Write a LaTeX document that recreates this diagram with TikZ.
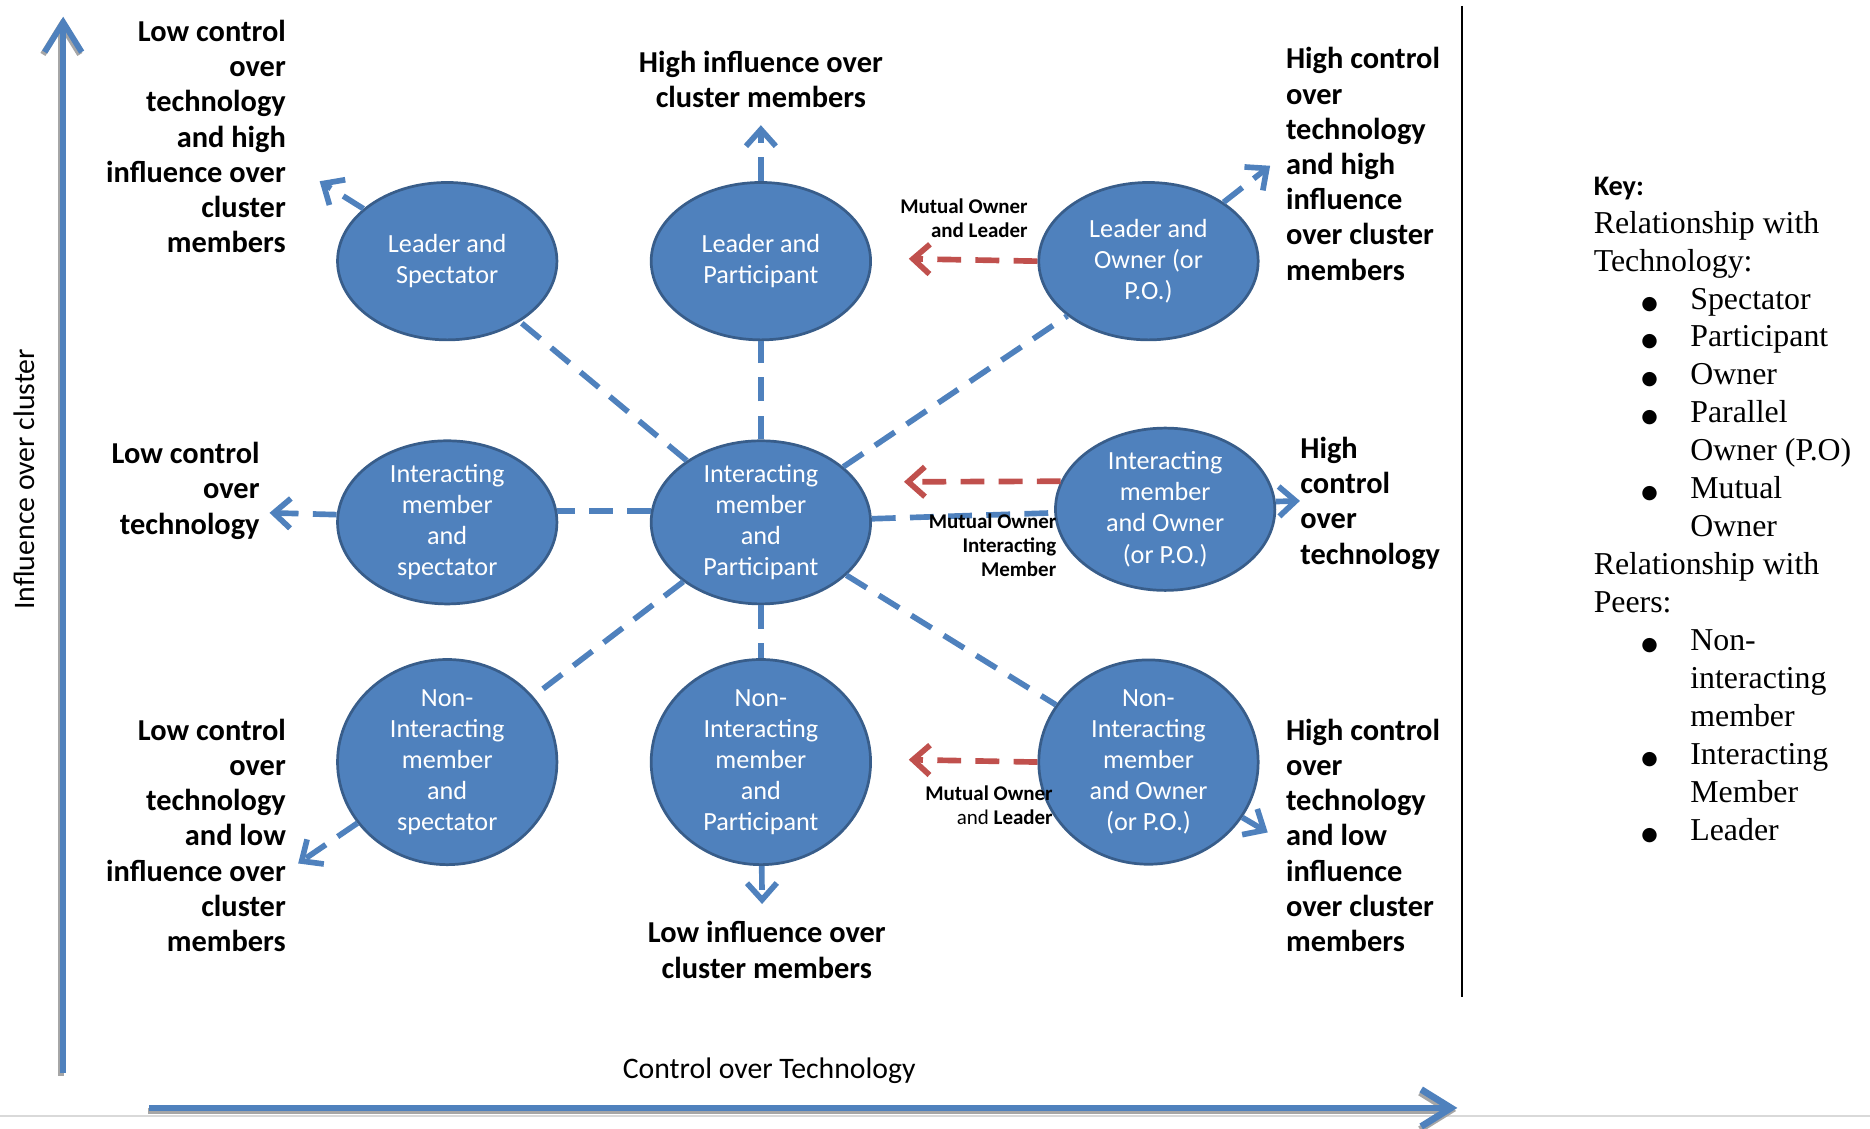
\documentclass[tikz,border=0pt]{standalone}
\usepackage{fontspec}
\setmainfont{Liberation Serif}
\setsansfont{Carlito}
\newfontfamily\dotfont{DejaVu Sans}
\usetikzlibrary{shapes.geometric,arrows.meta}
\definecolor{cellblue}{HTML}{4F81BD}
\definecolor{celledge}{HTML}{385D8A}
\definecolor{mutualred}{HTML}{C0504D}
\definecolor{shadowgray}{HTML}{A6A6A6}
\newcommand{\keydot}{{\dotfont\fontsize{9}{10}\selectfont ●}}
\newcommand{\keyitem}[1]{\makebox[1.62cm][l]{\hspace{0.8cm}\keydot}#1}
\newcommand{\keycont}[1]{\hspace*{1.62cm}#1}
\begin{document}
\begin{tikzpicture}[x=0.02cm, y=-0.02cm,
		cell/.style = {shape = ellipse,
		               fill = cellblue,
		               draw = celledge,
		               line width = 1.3pt,
		               minimum width = 3.68cm,
		               minimum height = 2.64cm,
		               inner sep = 0pt,
		               text = white,
		               align = center,
		               font = \sffamily\fontsize{12.5}{14.8}\selectfont},
		label/.style = {inner sep = 0pt,
		                font = \sffamily\bfseries\fontsize{14.5}{16.8}\selectfont},
		mutual/.style = {inner sep = 0pt,
		                 align = right,
		                 font = \sffamily\bfseries\fontsize{10}{11.4}\selectfont},
		link/.style = {draw = cellblue,
		               line width = 2.7pt,
		               dash pattern = on 0.4cm off 0.24cm},
		outlink/.style = {link,
		                  -{Straight Barb[length=0.28cm, width=0.5cm]}},
		mutlink/.style = {link,
		                  draw = mutualred,
		                  -{Straight Barb[length=0.28cm, width=0.5cm]}},
		axis/.style = {draw = cellblue,
		               -{Straight Barb[length=0.5cm, width=0.62cm]}}]
	\useasboundingbox (0,0) rectangle (1568,946);
	% page rule and key divider
	\draw[black!15, line width = 1pt] (0,936) -- (1568,936);
	\draw[black, line width = 0.9pt] (1226,5) -- (1226,836);
	% axes
	\coordinate (yb) at (53,900);
	\coordinate (yt) at (53,14);
	\coordinate (xb) at (125,929);
	\coordinate (xt) at (1222,929);
	\draw[axis, draw = shadowgray, line width = 2.8pt] ([shift={(-1.5,2)}]yb) -- ([shift={(-1.5,2)}]yt);
	\draw[axis, draw = shadowgray, line width = 3.2pt] ([shift={(-1,2.5)}]xb) -- ([shift={(-1,2.5)}]xt);
	\draw[axis, line width = 2.8pt] (yb) -- (yt);
	\draw[axis, line width = 3.2pt] (xb) -- (xt);
	\node[rotate = 90, font = \sffamily\fontsize{14.2}{16}\selectfont] (ylab) at (20,402) {Influence over cluster};
	\node[font = \sffamily\fontsize{14.2}{16}\selectfont] (xlab) at (645,898) {Control over Technology};
	% the nine roles
	\node[cell] (1) at (375,219) {Leader and\\Spectator};
	\node[cell] (2) at (638,219) {Leader and\\Participant};
	\node[cell] (3) at (963,219) {Leader and\\Owner (or\\P.O.)};
	\node[cell] (4) at (375,438) {Interacting\\member\\and\\spectator};
	\node[cell] (5) at (638,438) {Interacting\\member\\and\\Participant};
	\node[cell] (6) at (977,427) {Interacting\\member\\and Owner\\(or P.O.)};
	\node[cell] (7) at (375,639) {Non-\\Interacting\\member\\and\\spectator};
	\node[cell] (8) at (638,639) {Non-\\Interacting\\member\\and\\Participant};
	\node[cell] (9) at (963,639) {Non-\\Interacting\\member\\and Owner\\(or P.O.)};
	% links from the centre
	\path (5) edge[link] (1);
	\path (5) edge[link] (2);
	\path (5) edge[link] (3);
	\path (5.174) edge[link] (4.6);
	\path (5) edge[link] (6);
	\path (5) edge[link] (7);
	\path (5) edge[link] (8);
	\path (5) edge[link] (9);
	% outward arrows
	\coordinate (a1) at (268,152);
	\coordinate (a2) at (638,105);
	\coordinate (a3) at (1065,139);
	\coordinate (a4) at (226,430);
	\coordinate (a6) at (1090,420);
	\coordinate (a7) at (250,724);
	\coordinate (a8) at (639,758);
	\coordinate (a9) at (1063,698);
	\path (1) edge[outlink] (a1);
	\path (2) edge[outlink] (a2);
	\path (3) edge[outlink] (a3);
	\path (4.176) edge[outlink] (a4);
	\path (6.4) edge[outlink] (a6);
	\path (7) edge[outlink] (a7);
	\path (8) edge[outlink] (a8);
	\path (9) edge[outlink] (a9);
	% mutual owner arrows
	\coordinate (r1) at (762,217);
	\coordinate (r2) at (758,404);
	\coordinate (r3) at (762,637);
	\path (3.west) edge[mutlink] (r1);
	\path (6.165) edge[mutlink] (r2);
	\path (9.west) edge[mutlink] (r3);
	\node[mutual, anchor = east] (m1) at (862,183) {Mutual Owner\\and Leader};
	\node[mutual, anchor = east] (m2) at (886,457) {Mutual Owner\\Interacting\\Member};
	\node[mutual, anchor = east] (m3) at (883,675) {Mutual Owner\\{\mdseries and} Leader};
	% outcome labels
	\node[label, anchor = east, align = right] (t1) at (240,114.5) {Low control\\over\\technology\\and high\\influence over\\cluster\\members};
	\node[label, align = center] (t2) at (638,66.5) {High influence over\\cluster members};
	\node[label, anchor = west, align = left] (t3) at (1078,137.5) {High control\\over\\technology\\and high\\influence\\over cluster\\members};
	\node[label, anchor = east, align = right] (t4) at (218,411.5) {Low control\\over\\technology};
	\node[label, anchor = west, align = left] (t6) at (1090,422) {High\\control\\over\\technology};
	\node[label, anchor = east, align = right] (t7) at (240,700.5) {Low control\\over\\technology\\and low\\influence over\\cluster\\members};
	\node[label, align = center] (t8) at (643,796.5) {Low influence over\\cluster members};
	\node[label, anchor = west, align = left] (t9) at (1078,700.5) {High control\\over\\technology\\and low\\influence\\over cluster\\members};
	% key
	\node[anchor = north west, inner sep = 0pt, align = left, font = \rmfamily\fontsize{15.2}{18.1}\selectfont] (key) at (1336,148) {{\sffamily\bfseries\fontsize{13.5}{15}\selectfont Key:}\\
		Relationship with\\
		Technology:\\
		\keyitem{Spectator}\\
		\keyitem{Participant}\\
		\keyitem{Owner}\\
		\keyitem{Parallel}\\
		\keycont{Owner (P.O)}\\
		\keyitem{Mutual}\\
		\keycont{Owner}\\
		Relationship with\\
		Peers:\\
		\keyitem{Non-}\\
		\keycont{interacting}\\
		\keycont{member}\\
		\keyitem{Interacting}\\
		\keycont{Member}\\
		\keyitem{Leader}};
\end{tikzpicture}
\end{document}
